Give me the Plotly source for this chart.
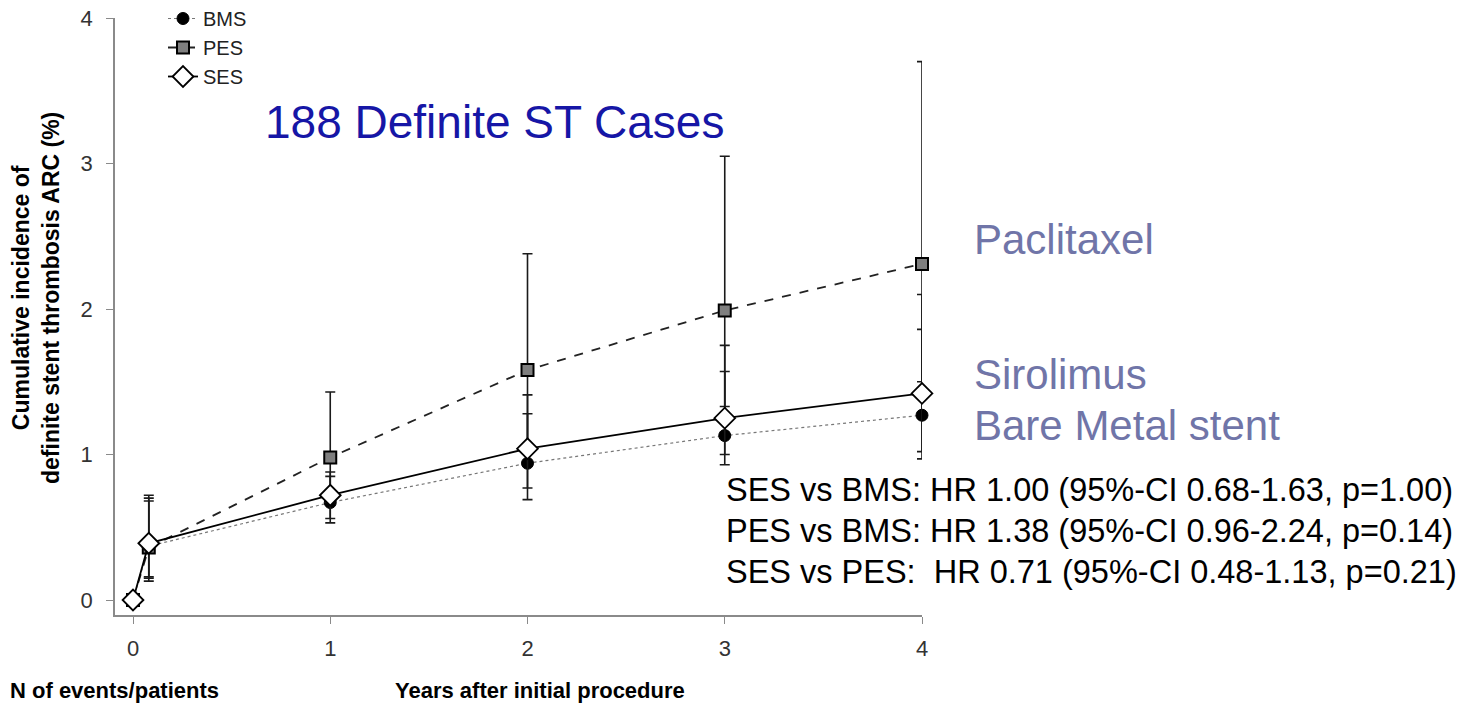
import plotly.graph_objects as go

# ---- data ----
years = [0, 0.08, 1, 2, 3, 4]

bms = [0, 0.37, 0.67, 0.94, 1.13, 1.27]
bms_upper = [0, 0.68, 0.85, 1.28, 1.57, 1.86]
bms_lower = [0, 0.13, 0.53, 0.69, 0.93, 0.97]

pes = [0, 0.36, 0.98, 1.58, 1.99, 2.31]
pes_upper = [0, 0.72, 1.43, 2.38, 3.05, 3.70]
pes_lower = [0, 0.15, 0.67, 1.07, 1.33, 1.50]

ses = [0, 0.39, 0.72, 1.04, 1.25, 1.42]
ses_upper = [0, 0.70, 0.88, 1.41, 1.75, 2.10]
ses_lower = [0, 0.16, 0.56, 0.77, 1.00, 1.02]

x_ticks = [0, 1, 2, 3, 4]
y_ticks = [0, 1, 2, 3, 4]

hr_lines = [
    "SES vs BMS: HR 1.00 (95%-CI 0.68-1.63, p=1.00)",
    "PES vs BMS: HR 1.38 (95%-CI 0.96-2.24, p=0.14)",
    "SES vs PES:\u00a0 HR 0.71 (95%-CI 0.48-1.13, p=0.21)",
]
drug_labels = ["Paclitaxel", "Sirolimus", "Bare Metal stent"]

# ---- layout geometry (pixels) ----
W, H = 1470, 703
L, R, T, B = 115, 922, 18, 615
PW, PH = R - L, B - T


def px(x):
    return (x - L) / PW


def py(y):
    return (B - y) / PH


FONT = "Liberation Sans, Arial, sans-serif"


def err(vals, up, lo):
    return dict(
        type="data",
        symmetric=False,
        array=[u - v for u, v in zip(up, vals)],
        arrayminus=[v - l for v, l in zip(vals, lo)],
        color="#1a1a1a",
        thickness=1.6,
        width=5,
    )


fig = go.Figure()

fig.add_trace(go.Scatter(
    x=years, y=bms, name="BMS", mode="lines+markers",
    line=dict(color="#777777", width=1.2, dash="dot"),
    marker=dict(symbol="circle", size=12, color="black", line=dict(color="black", width=1)),
    error_y=err(bms, bms_upper, bms_lower), cliponaxis=False,
))
fig.add_trace(go.Scatter(
    x=years, y=pes, name="PES", mode="lines+markers",
    line=dict(color="#222222", width=1.8, dash="dash"),
    marker=dict(symbol="square", size=12, color="#7f7f7f", line=dict(color="black", width=2)),
    error_y=err(pes, pes_upper, pes_lower), cliponaxis=False,
))
fig.add_trace(go.Scatter(
    x=years, y=ses, name="SES", mode="lines+markers",
    line=dict(color="black", width=1.8),
    marker=dict(symbol="diamond", size=16, color="white", line=dict(color="black", width=1.8)),
    error_y=err(ses, ses_upper, ses_lower), cliponaxis=False,
))

x0 = -(133 - L) / 197.25
y0 = -(615 - 600) / 145.5

annotations = [
    dict(x=px(263), y=py(122), text="188 Definite ST Cases", xanchor="left", yanchor="middle",
         font=dict(size=46, color="#1616a6", family=FONT)),
]
for txt, yy in zip(drug_labels, [240, 374, 425]):
    annotations.append(dict(x=px(972), y=py(yy), text=txt, xanchor="left", yanchor="middle",
                            font=dict(size=42, color="#7075a8", family=FONT)))
for txt, yy in zip(hr_lines, [490, 531, 572]):
    annotations.append(dict(x=px(724), y=py(yy), text=txt, xanchor="left", yanchor="middle",
                            font=dict(size=32.5, color="black", family=FONT)))
annotations += [
    dict(x=px(8), y=py(690), text="<b>N of events/patients</b>", xanchor="left", yanchor="middle",
         font=dict(size=22, color="black", family=FONT)),
    dict(x=px(540), y=py(690), text="<b>Years after initial procedure</b>", xanchor="center",
         yanchor="middle", font=dict(size=22, color="black", family=FONT)),
    dict(x=px(36), y=py(298), text="<b>Cumulative incidence of<br>definite stent thrombosis ARC (%)</b>",
         textangle=-90, xanchor="center", yanchor="middle",
         font=dict(size=23, color="black", family=FONT)),
]
for a in annotations:
    a.update(xref="paper", yref="paper", showarrow=False)

fig.update_layout(
    width=W, height=H,
    margin=dict(l=L, r=W - R, t=T, b=H - B, pad=0, autoexpand=False),
    paper_bgcolor="white", plot_bgcolor="white",
    font=dict(family=FONT, color="#333333"),
    showlegend=True,
    legend=dict(x=px(163), y=py(-1), xanchor="left", yanchor="top",
                font=dict(size=20, color="#222222", family=FONT),
                bgcolor="rgba(0,0,0,0)", itemwidth=30, tracegroupgap=0),
    annotations=annotations,
    xaxis=dict(range=[x0, 4.0], tickvals=x_ticks, ticktext=[str(v) for v in x_ticks],
               showgrid=False, zeroline=False, showline=True, linecolor="#8a8a8a", linewidth=1.5,
               ticks="outside", ticklen=7, tickcolor="#8a8a8a", ticklabelstandoff=6,
               tickfont=dict(size=22, color="#333333", family=FONT)),
    yaxis=dict(range=[y0, 4.0], tickvals=y_ticks, ticktext=[str(v) for v in y_ticks],
               showgrid=False, zeroline=False, showline=True, linecolor="#8a8a8a", linewidth=1.5,
               ticks="outside", ticklen=7, tickcolor="#8a8a8a", ticklabelstandoff=9,
               tickfont=dict(size=22, color="#333333", family=FONT)),
)

fig.write_html("out.html")
